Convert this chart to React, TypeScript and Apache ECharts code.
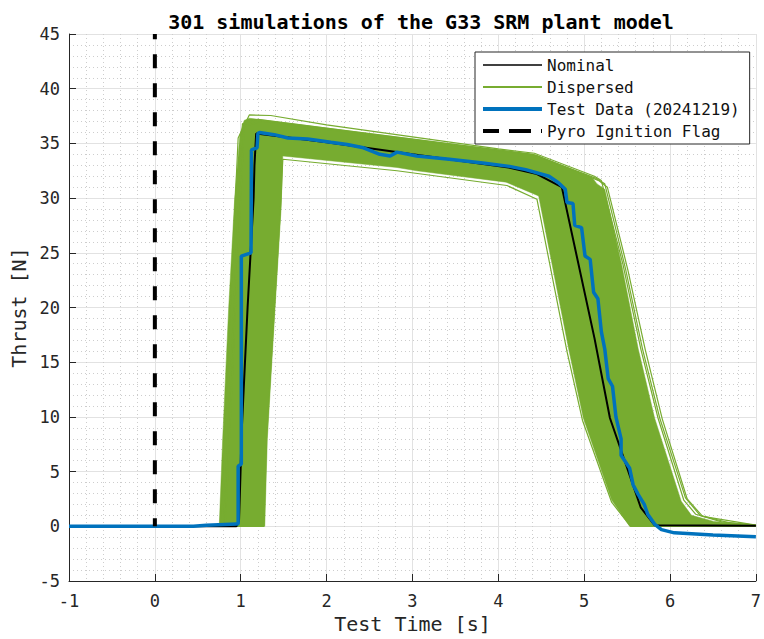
import { useEffect, useRef } from 'react';
import * as echarts from 'echarts';

const titleText = '301 simulations of the G33 SRM plant model';
const xAxisName = 'Test Time [s]';
const yAxisName = 'Thrust [N]';
const legendNames = ['Nominal', 'Dispersed', 'Test Data (20241219)', 'Pyro Ignition Flag'];

const nominal = [
  [-1, 0], [0.95, 0], [0.98, 0.5], [1.0, 5.5], [1.007, 8], [1.08, 20], [1.15, 30], [1.16, 33], [1.18, 35.9],
  [2.0, 35.1], [3.0, 34.0], [4.12, 32.8], [4.45, 32.2], [4.74, 31.0], [5.12, 17.2], [5.3, 9.9],
  [5.66, 1.7], [5.82, 0.1], [7, 0.05],
];

const testData = [
  [-1, 0], [0.45, 0], [0.6, 0.1], [0.95, 0.2], [0.97, 0.2], [0.97, 5.5], [1.007, 5.7], [1.007, 24.7],
  [1.12, 25.0], [1.125, 34.4], [1.19, 34.6], [1.2, 35.9], [1.22, 36.0], [1.39, 35.8], [1.55, 35.5],
  [1.78, 35.4], [2.05, 35.1], [2.24, 34.9], [2.43, 34.6], [2.62, 34.0], [2.74, 33.85], [2.82, 34.2],
  [3.05, 33.85], [3.43, 33.55], [3.82, 33.2], [4.13, 32.9], [4.32, 32.6], [4.59, 32.0], [4.7, 31.4],
  [4.78, 30.8], [4.8, 29.6], [4.87, 29.5], [4.89, 27.5], [4.97, 27.3], [5.01, 24.7], [5.07, 24.4],
  [5.11, 21.4], [5.16, 20.8], [5.2, 17.8], [5.24, 16.2], [5.28, 13.5], [5.33, 12.8], [5.37, 10.0],
  [5.43, 8.0], [5.43, 6.5], [5.53, 5.3], [5.57, 3.8], [5.63, 2.9], [5.7, 2.0], [5.74, 1.1],
  [5.82, 0.2], [5.9, -0.3], [6.05, -0.6], [6.5, -0.8], [7, -0.95],
];

const pyroFlag = [[0, 0], [0, 45]];

// outline of the 301 overlapping dispersed runs
const dispersedEnvelope = [
  [0.75, 0], [0.79, 8], [0.86, 20], [0.93, 30], [0.99, 35.8], [1.04, 37.1], [1.1, 37.3], [2.0, 36.4],
  [3.0, 35.4], [4.0, 34.4], [4.4, 34.0], [5.09, 31.9], [5.15, 31.3], [5.24, 30.8], [5.44, 23.8],
  [5.63, 16.2], [5.82, 9.9], [6.13, 2.3], [6.25, 1.0], [6.51, 0.45], [7.0, 0.08], [7.0, 0],
  [5.53, 0], [5.32, 2.4], [4.99, 9.9], [4.82, 16.2], [4.47, 30.2], [4.09, 31.46], [3.05, 32.5],
  [2.82, 32.8], [1.49, 33.85], [1.47, 29], [1.4, 20], [1.31, 8], [1.28, 0],
];

// individual outlying dispersed runs
const dispersedTop = [
  [-1, 0], [0.76, 0], [0.97, 35.5], [1.1, 37.6], [1.35, 37.55], [2.0, 36.7], [3.0, 35.6], [4.0, 34.5],
  [4.42, 34.1], [5.12, 32.0], [5.2, 31.6], [5.45, 24.0], [5.66, 16.2], [5.86, 9.9], [6.16, 2.4],
  [6.3, 1.1], [6.6, 0.4], [7, 0.1],
];
const dispersedRight1 = [
  [-1, 0], [0.8, 0], [1.02, 36.8], [1.2, 37.2], [2.5, 35.9], [4.4, 34.0], [5.14, 31.8], [5.24, 31.3],
  [5.48, 23.6], [5.68, 16.2], [5.88, 9.9], [6.18, 2.6], [6.35, 1.0], [6.7, 0.3], [7, 0.1],
];
const dispersedRight2 = [
  [-1, 0], [0.82, 0], [1.04, 36.6], [1.25, 37.0], [3.0, 35.3], [4.45, 33.9], [5.17, 31.6], [5.27, 31.0],
  [5.51, 23.4], [5.71, 16.2], [5.91, 9.8], [6.2, 2.5], [6.38, 0.9], [7, 0.1],
];
const dispersedLow = [
  [-1, 0], [1.27, 0], [1.3, 8], [1.47, 30], [1.49, 33.55], [2.82, 32.5], [4.1, 31.15], [4.45, 29.9],
  [4.8, 16.0], [4.98, 9.7], [5.32, 2.2], [5.54, 0], [7, 0],
];

const xMin = -1;
const xMax = 7;
const xStep = 1;
const yMin = -5;
const yMax = 45;
const yStep = 5;

const GREEN = '#77AC30';
const BLUE = '#0072BD';
const FONT = 'DejaVu Sans Mono';
const AXIS_COLOR = '#262626';

export default function App() {
  const ref = useRef<HTMLDivElement>(null);

  useEffect(() => {
    if (!ref.current) return;
    const chart = echarts.init(ref.current, undefined, { renderer: 'svg' });

    const dispersedLine = (data: number[][]) => ({
      type: 'line',
      name: 'Dispersed',
      data,
      symbol: 'none',
      showSymbol: false,
      lineStyle: { color: GREEN, width: 1.2 },
      itemStyle: { color: GREEN },
      z: 2,
      silent: true,
    });

    const axisCommon = {
      type: 'value',
      axisLine: { show: true, onZero: false, lineStyle: { color: AXIS_COLOR, width: 1 } },
      axisTick: { show: true, inside: true, length: 7, lineStyle: { color: AXIS_COLOR } },
      splitLine: { show: true, lineStyle: { color: '#e2e2e2', width: 1 } },
      minorSplitLine: { show: true, lineStyle: { color: '#cdcdcd', width: 1, type: [1, 3] } },
      nameLocation: 'middle',
      nameTextStyle: { fontFamily: FONT, fontSize: 20, color: AXIS_COLOR },
    };

    chart.setOption({
      animation: false,
      backgroundColor: '#ffffff',
      title: {
        text: titleText,
        left: 416,
        top: 7,
        textAlign: 'center',
        textStyle: { fontFamily: FONT, fontSize: 20, fontWeight: 'bold', color: '#000' },
      },
      grid: { left: 69, right: 2, top: 34, bottom: 56, show: false },
      legend: {
        left: 475,
        top: 52,
        orient: 'vertical',
        itemWidth: 59,
        itemHeight: 14,
        itemGap: 6,
        padding: [5, 10, 5, 6],
        backgroundColor: '#ffffff',
        borderColor: AXIS_COLOR,
        borderWidth: 1,
        borderRadius: 0,
        itemStyle: { opacity: 0 },
        textStyle: { fontFamily: FONT, fontSize: 16, color: '#111' },
        data: [
          { name: legendNames[0], itemStyle: { opacity: 0 }, lineStyle: { color: '#404040', width: 2 } },
          { name: legendNames[1], itemStyle: { opacity: 0 }, lineStyle: { color: GREEN, width: 2 } },
          { name: legendNames[2], itemStyle: { opacity: 0 }, lineStyle: { color: BLUE, width: 4 } },
          { name: legendNames[3], itemStyle: { opacity: 0 }, lineStyle: { color: '#000', width: 4, type: [22, 10] } },
        ],
      },
      xAxis: {
        ...axisCommon,
        min: xMin,
        max: xMax,
        interval: xStep,
        name: xAxisName,
        nameGap: 33,
        minorTick: { show: false, splitNumber: 5 },
        axisLabel: { fontFamily: FONT, fontSize: 17, color: AXIS_COLOR, margin: 11 },
      },
      yAxis: {
        ...axisCommon,
        min: yMin,
        max: yMax,
        interval: yStep,
        name: yAxisName,
        nameGap: 34,
        minorTick: { show: false, splitNumber: 5 },
        axisLabel: { fontFamily: FONT, fontSize: 17, color: AXIS_COLOR, margin: 9 },
      },
      series: [
        {
          type: 'custom',
          name: 'Dispersed band',
          data: [[0, 0]],
          silent: true,
          z: 1,
          renderItem: (_params: any, api: any) => ({
            type: 'polygon',
            shape: { points: dispersedEnvelope.map((p) => api.coord(p)) },
            style: { fill: GREEN, stroke: GREEN, lineWidth: 0.5 },
          }),
        },
        dispersedLine(dispersedTop),
        dispersedLine(dispersedRight1),
        dispersedLine(dispersedRight2),
        dispersedLine(dispersedLow),
        {
          type: 'line',
          name: legendNames[0],
          data: nominal,
          symbol: 'none',
          showSymbol: false,
          lineStyle: { color: '#000', width: 2 },
          itemStyle: { color: '#404040' },
          z: 3,
        },
        {
          type: 'line',
          name: legendNames[2],
          data: testData,
          symbol: 'none',
          showSymbol: false,
          lineStyle: { color: BLUE, width: 3.5 },
          itemStyle: { color: BLUE },
          z: 4,
        },
        {
          type: 'line',
          name: legendNames[3],
          data: pyroFlag,
          symbol: 'none',
          showSymbol: false,
          lineStyle: { color: '#000', width: 4, type: [14, 15], dashOffset: 6 },
          itemStyle: { color: '#000' },
          z: 5,
        },
      ],
    });

    return () => chart.dispose();
  }, []);

  return (
    <div
      ref={ref}
      style={{ position: 'fixed', left: 0, top: 0, width: 764, height: 639, background: '#fff' }}
    />
  );
}
